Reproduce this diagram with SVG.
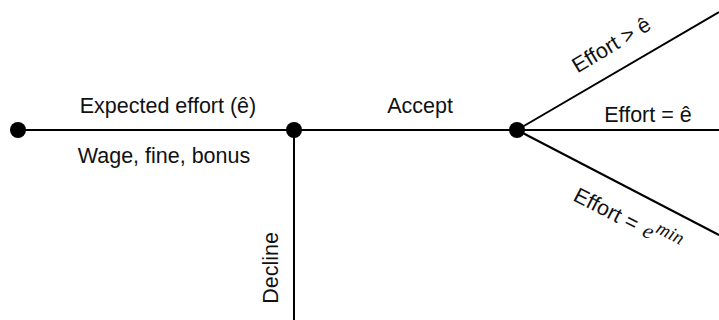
<svg xmlns="http://www.w3.org/2000/svg" width="719" height="320" viewBox="0 0 719 320">
<style>
.ln{stroke:#000;stroke-width:2;fill:none}
.t{font-family:"Liberation Sans",Arial,sans-serif;font-size:21.5px;fill:#111}
.m{font-family:"Liberation Serif","Times New Roman",serif;font-style:italic}
</style>
<rect width="719" height="320" fill="#fff"/>
<g id="connectors">
<line class="ln" x1="18" y1="130" x2="719" y2="130"/>
<line class="ln" x1="294" y1="130" x2="294" y2="320"/>
<line class="ln" x1="517" y1="130" x2="719" y2="12"/>
<line class="ln" x1="517" y1="130" x2="719" y2="235"/>
</g>
<g id="start"><circle cx="18" cy="130" r="8"/></g>
<g id="offer"><circle cx="294" cy="130" r="8"/></g>
<g id="accept"><circle cx="517" cy="130" r="8"/></g>
<g id="labels">
<text class="t" x="168" y="113" text-anchor="middle">Expected effort (ê)</text>
<text class="t" x="164" y="163" text-anchor="middle">Wage, fine, bonus</text>
<text class="t" x="420" y="113" text-anchor="middle">Accept</text>
<text class="t" x="648" y="122" text-anchor="middle">Effort = ê</text>
<text class="t" transform="translate(278,268) rotate(-90)" text-anchor="middle">Decline</text>
<text class="t" transform="translate(615,51) rotate(-31)" text-anchor="middle">Effort &gt; ê</text>
<text class="t" transform="translate(572,200) rotate(27)">Effort = <tspan class="m" font-size="22" dx="2">e</tspan><tspan class="m" font-size="19" dx="1" dy="-9">min</tspan></text>
</g>
</svg>
